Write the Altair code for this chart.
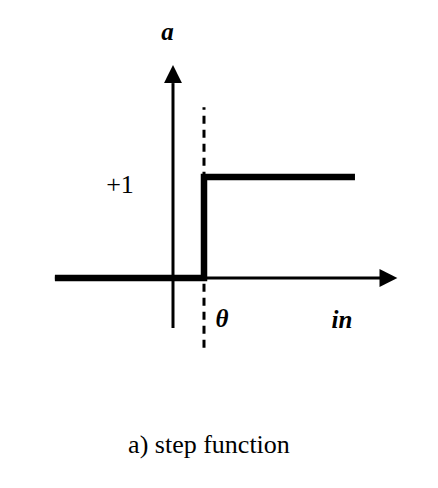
import altair as alt
import pandas as pd

# ---- data (schematic step function) ----
theta = 1.0
step_in = [-3.81, theta, theta, 5.87]
step_a = [0, 0, 1, 1]

haxis_in = [-3.81, 6.68]
haxis_a = [0, 0]
vaxis_in = [0, 0]
vaxis_a = [-0.495, 1.93]

dash_in = [theta, theta]
dash_a = [-0.69, 1.69]

arrow_in = [0, 6.95]
arrow_a = [2.02, 0.0]
arrow_shape = ["M-1,1L0,-1L1,1Z", "M-1,-1L1,0L-1,1Z"]

italic_labels = ["a", "θ", "in"]
italic_x = [-0.177, 1.58, 5.45]
italic_y = [2.356, -0.485, -0.495]

plain_labels = ["+1", "a) step function"]
plain_x = [-1.71, 1.16]
plain_y = [0.842, -1.733]

# ---- scales ----
xs = alt.Scale(domain=[-5.3226, 8.226], nice=False, zero=False)
ys = alt.Scale(domain=[-1.9307, 2.6733], nice=False, zero=False)

def X(f):
    return alt.X(f, type="quantitative", scale=xs, axis=None)

def Y(f):
    return alt.Y(f, type="quantitative", scale=ys, axis=None)

haxis = alt.Chart(pd.DataFrame({"x": haxis_in, "y": haxis_a, "o": [0, 1]})).mark_line(
    color="black", strokeWidth=3).encode(x=X("x"), y=Y("y"), order="o:Q")
vaxis = alt.Chart(pd.DataFrame({"x": vaxis_in, "y": vaxis_a, "o": [0, 1]})).mark_line(
    color="black", strokeWidth=3).encode(x=X("x"), y=Y("y"), order="o:Q")
dash = alt.Chart(pd.DataFrame({"x": dash_in, "y": dash_a, "o": [0, 1]})).mark_line(
    color="black", strokeWidth=3, strokeDash=[8, 6]).encode(x=X("x"), y=Y("y"), order="o:Q")
step = alt.Chart(pd.DataFrame({"x": step_in, "y": step_a, "o": [0, 1, 2, 3]})).mark_line(
    color="black", strokeWidth=6.5, strokeJoin="miter").encode(x=X("x"), y=Y("y"), order="o:Q")

arrows = alt.layer(*[
    alt.Chart(pd.DataFrame({"x": [arrow_in[i]], "y": [arrow_a[i]]})).mark_point(
        shape=arrow_shape[i], size=320, filled=True, color="black", opacity=1, strokeWidth=0
    ).encode(x=X("x"), y=Y("y"))
    for i in range(2)
])

ital = alt.Chart(pd.DataFrame({"x": italic_x, "y": italic_y, "t": italic_labels})).mark_text(
    font="Liberation Serif", fontSize=25, fontStyle="italic", fontWeight="bold",
    color="black", align="center", baseline="alphabetic"
).encode(x=X("x"), y=Y("y"), text="t:N")

plain = alt.Chart(pd.DataFrame({"x": plain_x, "y": plain_y, "t": plain_labels})).mark_text(
    font="Liberation Serif", fontSize=26, color="black", align="center", baseline="alphabetic"
).encode(x=X("x"), y=Y("y"), text="t:N")

chart = alt.layer(haxis, vaxis, dash, step, arrows, ital, plain).properties(
    width=420, height=465, padding=0,
    autosize=alt.AutoSizeParams(type="none")
).configure_view(stroke=None)

chart.save("out.html", embed_options={"renderer": "svg", "actions": False})
